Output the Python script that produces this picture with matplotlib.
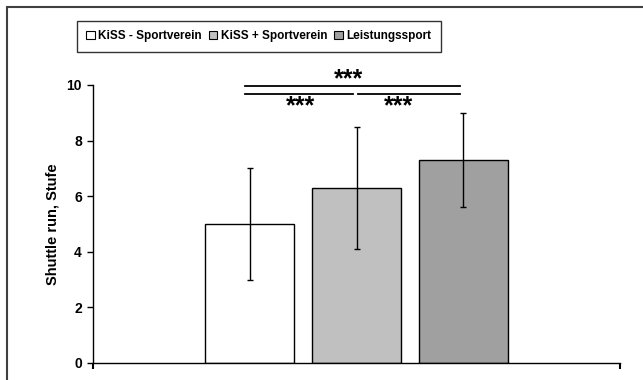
import matplotlib
matplotlib.use("Agg")
import matplotlib.pyplot as plt
from matplotlib.patches import Patch, Rectangle

plt.rcParams['font.family'] = ['Liberation Sans', 'DejaVu Sans']
plt.rcParams['font.weight'] = 'bold'

groups = ["KiSS - Sportverein", "KiSS + Sportverein", "Leistungssport"]
means = [5.0, 6.3, 7.3]
sds = [2.0, 2.2, 1.7]
colors = ["#FFFFFF", "#C0C0C0", "#A0A0A0"]
yticks = [0, 2, 4, 6, 8, 10]
y_label = "Shuttle run, Stufe"
sig_label = "***"

W, H = 643, 380
fig = plt.figure(figsize=(W / 100, H / 100), dpi=100)

# outer chart-area frame (right and bottom run past the canvas)
fig.patches.append(Rectangle((7 / W, -0.05), 1.2, 1 - 7 / H + 0.05,
                             transform=fig.transFigure, fill=False,
                             edgecolor="#404040", linewidth=1.5))

ax = fig.add_axes([93 / W, 1 - 363 / H, (620 - 93) / W, (363 - 85) / H])
x = list(range(len(means)))
ax.bar(x, means, width=0.83, color=colors, edgecolor="black", linewidth=1.0, zorder=2)
ax.errorbar(x, means, yerr=sds, fmt="none", ecolor="black", elinewidth=1.0,
            capsize=2.3, capthick=1.0, zorder=3)

ax.set_xlim(-1.463, 3.463)
ax.set_ylim(0, 10)
ax.set_yticks(yticks)
ax.set_yticklabels([str(t) for t in yticks], fontsize=10, fontweight="bold")
ax.set_xticks([-1.463, 3.463])
ax.set_xticklabels([])
ax.tick_params(axis="y", direction="out", length=4, width=1, pad=4)
ax.tick_params(axis="x", direction="out", length=4, width=1.5)
for s in ["top", "right"]:
    ax.spines[s].set_visible(False)
for s in ["left", "bottom"]:
    ax.spines[s].set_linewidth(1.0)
ax.set_ylabel(y_label, fontsize=10.5, fontweight="bold", labelpad=5)

# significance brackets
lw = 1.3
ax.plot([-0.04, 1.97], [9.97, 9.97], color="black", lw=lw, clip_on=False)
ax.plot([-0.04, 0.97], [9.68, 9.68], color="black", lw=lw, clip_on=False)
ax.plot([1.01, 1.97], [9.68, 9.68], color="black", lw=lw, clip_on=False)
star_kw = dict(ha="center", va="center", fontsize=18, fontweight="bold", clip_on=False)
ax.text(0.93, 10.2, sig_label, **star_kw)
ax.text(0.48, 9.25, sig_label, **star_kw)
ax.text(1.39, 9.25, sig_label, **star_kw)

handles = [Patch(facecolor=c, edgecolor="black", linewidth=0.8) for c in colors]
leg = fig.legend(handles, groups, loc="upper left", bbox_to_anchor=(77 / W, 1 - 21 / H),
                 ncol=3, frameon=True, fancybox=False, edgecolor="black",
                 prop={"weight": "bold", "size": 8.5}, handlelength=0.7, handleheight=0.7,
                 handletextpad=0.3, columnspacing=0.6, borderpad=0.8, borderaxespad=0)
leg.get_frame().set_linewidth(1.0)

fig.savefig("out.png", dpi=100)
